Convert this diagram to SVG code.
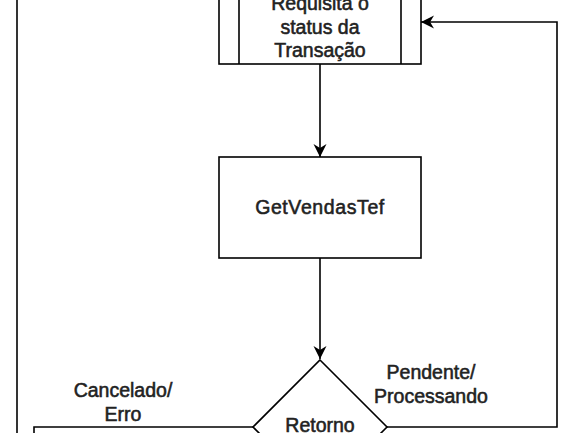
<svg xmlns="http://www.w3.org/2000/svg" width="571" height="433" viewBox="0 0 571 433">
<style>
.shape{fill:#fff;stroke:#000;stroke-width:1.6}
.edge{fill:none;stroke:#000;stroke-width:1.6}
text{font-family:"Liberation Sans",Arial,sans-serif;font-size:19.5px;fill:#222;stroke:#222;stroke-width:0.55;text-anchor:middle}
</style>
<defs>
<marker id="arr" viewBox="0 0 10 10" refX="10" refY="5" markerWidth="13" markerHeight="13" markerUnits="userSpaceOnUse" orient="auto" overflow="visible">
<path d="M0,0 L10,5 L0,10 L3,5 Z" fill="#000"/>
</marker>
</defs>
<rect width="571" height="433" fill="#fff"/>
<g id="connectors">
<line class="edge" x1="320" y1="64" x2="320" y2="157" marker-end="url(#arr)"/>
<line class="edge" x1="320" y1="258" x2="320" y2="359" marker-end="url(#arr)"/>
<polyline class="edge" points="387,427 557,427 557,22 421,22" marker-end="url(#arr)"/>
<polyline class="edge" points="253,427 34,427 34,440"/>
<line class="edge" x1="17" y1="-5" x2="17" y2="440"/>
<text x="123" y="397">Cancelado/</text>
<text x="123" y="421">Erro</text>
<text x="431" y="379">Pendente/</text>
<text x="431" y="403">Processando</text>
</g>
<g id="requisita">
<rect class="shape" x="219" y="-40" width="202" height="104"/>
<line class="edge" x1="239" y1="-40" x2="239" y2="64"/>
<line class="edge" x1="401" y1="-40" x2="401" y2="64"/>
<text x="320" y="10">Requisita o</text>
<text x="320" y="34">status da</text>
<text x="320" y="57">Transação</text>
</g>
<g id="getvendastef">
<rect class="shape" x="219" y="157" width="202" height="101"/>
<text x="320" y="214" letter-spacing="0.6">GetVendasTef</text>
</g>
<g id="retorno">
<polygon class="shape" points="320,360 387,427 320,494 253,427"/>
<text x="320" y="432">Retorno</text>
</g>
</svg>
